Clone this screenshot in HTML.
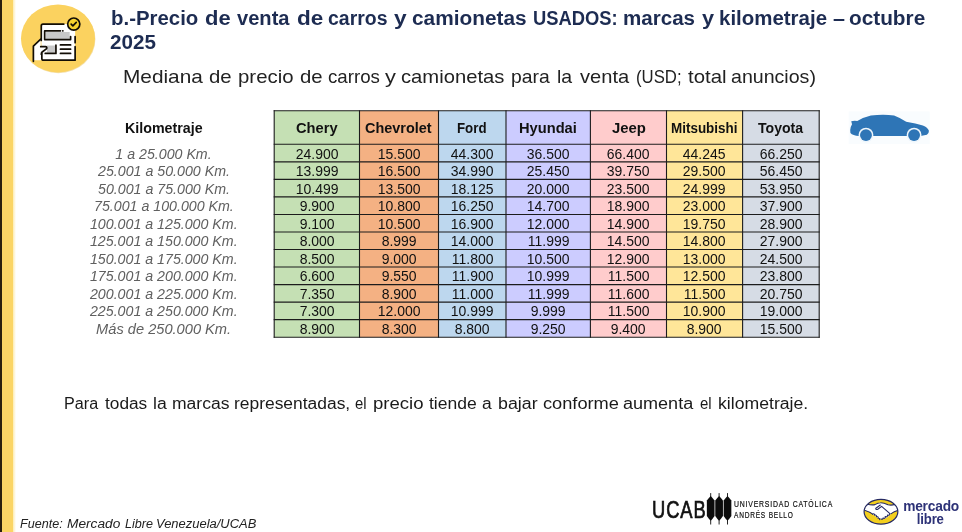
<!DOCTYPE html>
<html lang="es"><head><meta charset="utf-8"><title>Precio de venta de carros y camionetas usados</title>
<style>
html,body{margin:0;padding:0;}
body{width:962px;height:532px;position:relative;overflow:hidden;background:#fff;font-family:"Liberation Sans",sans-serif;color:#1a1a1a;}
.abs{position:absolute;white-space:nowrap;}
.abs>span{display:inline-block;}
.L>span{transform-origin:0 50%;}
.W>span{position:absolute;top:0;transform-origin:0 50%;}
.C{text-align:center;}
.C>span{transform-origin:50% 50%;}
.bar{position:absolute;left:0;top:0;width:13px;height:532px;background:#fbd565;}
.bar0{position:absolute;left:0;top:0;width:1.7px;height:532px;background:#2a1f0c;}
.title{font-weight:bold;font-size:20px;line-height:24px;color:#1d2c52;}
.sub{font-size:17.8px;line-height:22px;color:#222;}
.note{font-size:16px;line-height:22px;color:#1a1a1a;}
.src{font-size:12.5px;line-height:15px;font-style:italic;color:#222;}
.lab{width:200px;left:63.8px;font-style:italic;font-size:14px;line-height:17.5px;color:#606060;}
.km{width:200px;left:64px;font-weight:bold;font-size:14.2px;line-height:18px;color:#111;top:119.5px;}
.hd{font-weight:bold;font-size:14.2px;line-height:18px;color:#111;}
.c{font-size:14.5px;line-height:17.5px;color:#111;}
</style></head><body>
<div class="bar"></div><div style="position:absolute;left:13px;top:0;width:2.5px;height:532px;background:linear-gradient(to right,#fdecb0,#fff)"></div><div class="bar0"></div>
<svg class="abs" style="left:16px;top:0" width="90" height="80" viewBox="0 0 90 80">
<ellipse cx="42.4" cy="39.2" rx="37" ry="34" fill="#e9c86e" opacity="0.55"/>
<ellipse cx="42" cy="38.4" rx="37" ry="34" fill="#fbd25f"/>
<g transform="translate(14,10) scale(0.11278)" fill="none" stroke="#120d05" stroke-width="15" stroke-linecap="round" stroke-linejoin="round">
<path d="M100 270 V140 Q100 125 115 125 H400 V445 H120 Q105 445 105 430 V380 Z" fill="#fff" stroke="none"/>
<path d="M30 455 V320 L95 255 V325 H140 Q152 325 150 340 L100 380 V445 H30 Z" fill="#fff" stroke="none"/>
<rect x="140" y="195" width="212" height="62" fill="#c8c8c8" stroke="none"/>
<rect x="150" y="315" width="76" height="62" fill="#c8c8c8" stroke="none"/>
<path d="M100 270 V140 Q100 125 115 125 H300"/>
<path d="M400 235 V290 M400 325 V445 H120 Q105 445 105 430 V385"/>
<path d="M270 185 H130 V262 H360 V235"/>
<path d="M290 185 H292"/>
<path d="M230 312 V385 H135"/>
<path d="M270 310 H360 M270 347 H360 M270 385 H360"/>
<path d="M30 455 V320 L95 258"/>
<path d="M95 325 H138 Q152 327 148 342 L108 372 Q100 380 100 392"/>
<circle cx="388" cy="125" r="54" fill="#f7d22e" stroke-width="15"/>
<path d="M365 125 L380 140 L410 110" stroke-width="15"/>
</g></svg>
<div class="abs W title" style="left:0;top:5.6px;width:962px"><span style="left:110.63px;transform:scaleX(1.0199)">b.-Precio</span> <span style="left:205.37px;transform:scaleX(1.0986)">de</span> <span style="left:236.81px;transform:scaleX(1.0051)">venta</span> <span style="left:296.52px;transform:scaleX(1.1261)">de</span> <span style="left:328.15px;transform:scaleX(0.9723)">carros</span> <span style="left:393.70px;transform:scaleX(1.1343)">y</span> <span style="left:412.00px;transform:scaleX(1.0415)">camionetas</span> <span style="left:533.00px;transform:scaleX(0.9178)">USADOS:</span> <span style="left:623.37px;transform:scaleX(1.0279)">marcas</span> <span style="left:701.55px;transform:scaleX(1.0855)">y</span> <span style="left:719.00px;transform:scaleX(1.0227)">kilometraje</span> <span style="left:832.52px;transform:scaleX(1.0778)">–</span> <span style="left:849.37px;transform:scaleX(1.0390)">octubre</span></div>
<div class="abs W title" style="left:0;top:29.9px;width:962px"><span style="left:110.15px;transform:scaleX(1.0333)">2025</span></div>
<div class="abs W sub" style="left:0;top:65.6px;width:962px"><span style="left:122.93px;transform:scaleX(1.1695)">Mediana</span> <span style="left:209.37px;transform:scaleX(1.1448)">de</span> <span style="left:237.74px;transform:scaleX(1.1465)">precio</span> <span style="left:299.63px;transform:scaleX(1.1448)">de</span> <span style="left:328.15px;transform:scaleX(1.0505)">carros</span> <span style="left:385.07px;transform:scaleX(1.2262)">y</span> <span style="left:401.26px;transform:scaleX(1.1369)">camionetas</span> <span style="left:511.00px;transform:scaleX(1.0869)">para</span> <span style="left:557.48px;transform:scaleX(1.0957)">la</span> <span style="left:579.55px;transform:scaleX(1.1299)">venta</span> <span style="left:635.74px;transform:scaleX(0.9414)">(USD;</span> <span style="left:687.66px;transform:scaleX(1.1468)">total</span> <span style="left:731.26px;transform:scaleX(1.1013)">anuncios)</span></div>
<svg class="abs" style="left:0;top:0" width="962" height="532" viewBox="0 0 962 532"><rect x="274.2" y="110.8" width="85.30" height="226.40" fill="#c5e0b4"/><rect x="359.5" y="110.8" width="79.00" height="226.40" fill="#f4b183"/><rect x="438.5" y="110.8" width="67.50" height="226.40" fill="#bdd7ee"/><rect x="506.0" y="110.8" width="84.40" height="226.40" fill="#ccccff"/><rect x="590.4" y="110.8" width="76.10" height="226.40" fill="#ffcccc"/><rect x="666.5" y="110.8" width="76.10" height="226.40" fill="#ffe699"/><rect x="742.6" y="110.8" width="76.60" height="226.40" fill="#d6dce5"/><g stroke="#1c1c1c" stroke-width="1.1"><line x1="274.2" y1="110.3" x2="274.2" y2="337.7"/><line x1="359.5" y1="110.3" x2="359.5" y2="337.7"/><line x1="438.5" y1="110.3" x2="438.5" y2="337.7"/><line x1="506.0" y1="110.3" x2="506.0" y2="337.7"/><line x1="590.4" y1="110.3" x2="590.4" y2="337.7"/><line x1="666.5" y1="110.3" x2="666.5" y2="337.7"/><line x1="742.6" y1="110.3" x2="742.6" y2="337.7"/><line x1="819.2" y1="110.3" x2="819.2" y2="337.7"/><line x1="273.7" y1="110.80" x2="819.7" y2="110.80"/><line x1="273.7" y1="144.30" x2="819.7" y2="144.30"/><line x1="273.7" y1="161.84" x2="819.7" y2="161.84"/><line x1="273.7" y1="179.37" x2="819.7" y2="179.37"/><line x1="273.7" y1="196.91" x2="819.7" y2="196.91"/><line x1="273.7" y1="214.45" x2="819.7" y2="214.45"/><line x1="273.7" y1="231.98" x2="819.7" y2="231.98"/><line x1="273.7" y1="249.52" x2="819.7" y2="249.52"/><line x1="273.7" y1="267.05" x2="819.7" y2="267.05"/><line x1="273.7" y1="284.59" x2="819.7" y2="284.59"/><line x1="273.7" y1="302.13" x2="819.7" y2="302.13"/><line x1="273.7" y1="319.66" x2="819.7" y2="319.66"/><line x1="273.7" y1="337.20" x2="819.7" y2="337.20"/></g></svg>
<div class="abs W hd" style="left:0;top:118.6px;width:962px"><span style="left:124.52px;transform:scaleX(1.0040)">Kilometraje</span></div>
<div class="abs W hd" style="left:0;top:118.6px;width:962px"><span style="left:295.77px;transform:scaleX(1.0348)">Chery</span> <span style="left:365.48px;transform:scaleX(1.0171)">Chevrolet</span> <span style="left:457.00px;transform:scaleX(0.9368)">Ford</span> <span style="left:519.15px;transform:scaleX(1.0334)">Hyundai</span> <span style="left:611.74px;transform:scaleX(1.0497)">Jeep</span> <span style="left:671.15px;transform:scaleX(0.9472)">Mitsubishi</span> <span style="left:757.81px;transform:scaleX(0.9918)">Toyota</span></div>
<div class="abs C lab" style="top:145.5px"><span style="transform:scaleX(1.0147)">1 a 25.000 Km.</span></div>
<div class="abs C c" style="left:274.2px;width:85.3px;top:145.5px"><span style="transform:scaleX(0.9634)">24.900</span></div>
<div class="abs C c" style="left:359.5px;width:79.0px;top:145.5px"><span style="transform:scaleX(0.9634)">15.500</span></div>
<div class="abs C c" style="left:438.5px;width:67.5px;top:145.5px"><span style="transform:scaleX(0.9634)">44.300</span></div>
<div class="abs C c" style="left:506.0px;width:84.4px;top:145.5px"><span style="transform:scaleX(0.9634)">36.500</span></div>
<div class="abs C c" style="left:590.4px;width:76.1px;top:145.5px"><span style="transform:scaleX(0.9634)">66.400</span></div>
<div class="abs C c" style="left:666.5px;width:76.1px;top:145.5px"><span style="transform:scaleX(0.9634)">44.245</span></div>
<div class="abs C c" style="left:742.6px;width:76.6px;top:145.5px"><span style="transform:scaleX(0.9634)">66.250</span></div>
<div class="abs C lab" style="top:163.0px"><span style="transform:scaleX(1.0147)">25.001 a 50.000 Km.</span></div>
<div class="abs C c" style="left:274.2px;width:85.3px;top:163.0px"><span style="transform:scaleX(0.9634)">13.999</span></div>
<div class="abs C c" style="left:359.5px;width:79.0px;top:163.0px"><span style="transform:scaleX(0.9634)">16.500</span></div>
<div class="abs C c" style="left:438.5px;width:67.5px;top:163.0px"><span style="transform:scaleX(0.9634)">34.990</span></div>
<div class="abs C c" style="left:506.0px;width:84.4px;top:163.0px"><span style="transform:scaleX(0.9634)">25.450</span></div>
<div class="abs C c" style="left:590.4px;width:76.1px;top:163.0px"><span style="transform:scaleX(0.9634)">39.750</span></div>
<div class="abs C c" style="left:666.5px;width:76.1px;top:163.0px"><span style="transform:scaleX(0.9634)">29.500</span></div>
<div class="abs C c" style="left:742.6px;width:76.6px;top:163.0px"><span style="transform:scaleX(0.9634)">56.450</span></div>
<div class="abs C lab" style="top:180.6px"><span style="transform:scaleX(1.0147)">50.001 a 75.000 Km.</span></div>
<div class="abs C c" style="left:274.2px;width:85.3px;top:180.6px"><span style="transform:scaleX(0.9634)">10.499</span></div>
<div class="abs C c" style="left:359.5px;width:79.0px;top:180.6px"><span style="transform:scaleX(0.9634)">13.500</span></div>
<div class="abs C c" style="left:438.5px;width:67.5px;top:180.6px"><span style="transform:scaleX(0.9634)">18.125</span></div>
<div class="abs C c" style="left:506.0px;width:84.4px;top:180.6px"><span style="transform:scaleX(0.9634)">20.000</span></div>
<div class="abs C c" style="left:590.4px;width:76.1px;top:180.6px"><span style="transform:scaleX(0.9634)">23.500</span></div>
<div class="abs C c" style="left:666.5px;width:76.1px;top:180.6px"><span style="transform:scaleX(0.9634)">24.999</span></div>
<div class="abs C c" style="left:742.6px;width:76.6px;top:180.6px"><span style="transform:scaleX(0.9634)">53.950</span></div>
<div class="abs C lab" style="top:198.1px"><span style="transform:scaleX(1.0147)">75.001 a 100.000 Km.</span></div>
<div class="abs C c" style="left:274.2px;width:85.3px;top:198.1px"><span style="transform:scaleX(0.9634)">9.900</span></div>
<div class="abs C c" style="left:359.5px;width:79.0px;top:198.1px"><span style="transform:scaleX(0.9634)">10.800</span></div>
<div class="abs C c" style="left:438.5px;width:67.5px;top:198.1px"><span style="transform:scaleX(0.9634)">16.250</span></div>
<div class="abs C c" style="left:506.0px;width:84.4px;top:198.1px"><span style="transform:scaleX(0.9634)">14.700</span></div>
<div class="abs C c" style="left:590.4px;width:76.1px;top:198.1px"><span style="transform:scaleX(0.9634)">18.900</span></div>
<div class="abs C c" style="left:666.5px;width:76.1px;top:198.1px"><span style="transform:scaleX(0.9634)">23.000</span></div>
<div class="abs C c" style="left:742.6px;width:76.6px;top:198.1px"><span style="transform:scaleX(0.9634)">37.900</span></div>
<div class="abs C lab" style="top:215.6px"><span style="transform:scaleX(1.0147)">100.001 a 125.000 Km.</span></div>
<div class="abs C c" style="left:274.2px;width:85.3px;top:215.6px"><span style="transform:scaleX(0.9634)">9.100</span></div>
<div class="abs C c" style="left:359.5px;width:79.0px;top:215.6px"><span style="transform:scaleX(0.9634)">10.500</span></div>
<div class="abs C c" style="left:438.5px;width:67.5px;top:215.6px"><span style="transform:scaleX(0.9634)">16.900</span></div>
<div class="abs C c" style="left:506.0px;width:84.4px;top:215.6px"><span style="transform:scaleX(0.9634)">12.000</span></div>
<div class="abs C c" style="left:590.4px;width:76.1px;top:215.6px"><span style="transform:scaleX(0.9634)">14.900</span></div>
<div class="abs C c" style="left:666.5px;width:76.1px;top:215.6px"><span style="transform:scaleX(0.9634)">19.750</span></div>
<div class="abs C c" style="left:742.6px;width:76.6px;top:215.6px"><span style="transform:scaleX(0.9634)">28.900</span></div>
<div class="abs C lab" style="top:233.2px"><span style="transform:scaleX(1.0147)">125.001 a 150.000 Km.</span></div>
<div class="abs C c" style="left:274.2px;width:85.3px;top:233.2px"><span style="transform:scaleX(0.9634)">8.000</span></div>
<div class="abs C c" style="left:359.5px;width:79.0px;top:233.2px"><span style="transform:scaleX(0.9634)">8.999</span></div>
<div class="abs C c" style="left:438.5px;width:67.5px;top:233.2px"><span style="transform:scaleX(0.9634)">14.000</span></div>
<div class="abs C c" style="left:506.0px;width:84.4px;top:233.2px"><span style="transform:scaleX(0.9634)">11.999</span></div>
<div class="abs C c" style="left:590.4px;width:76.1px;top:233.2px"><span style="transform:scaleX(0.9634)">14.500</span></div>
<div class="abs C c" style="left:666.5px;width:76.1px;top:233.2px"><span style="transform:scaleX(0.9634)">14.800</span></div>
<div class="abs C c" style="left:742.6px;width:76.6px;top:233.2px"><span style="transform:scaleX(0.9634)">27.900</span></div>
<div class="abs C lab" style="top:250.7px"><span style="transform:scaleX(1.0147)">150.001 a 175.000 Km.</span></div>
<div class="abs C c" style="left:274.2px;width:85.3px;top:250.7px"><span style="transform:scaleX(0.9634)">8.500</span></div>
<div class="abs C c" style="left:359.5px;width:79.0px;top:250.7px"><span style="transform:scaleX(0.9634)">9.000</span></div>
<div class="abs C c" style="left:438.5px;width:67.5px;top:250.7px"><span style="transform:scaleX(0.9634)">11.800</span></div>
<div class="abs C c" style="left:506.0px;width:84.4px;top:250.7px"><span style="transform:scaleX(0.9634)">10.500</span></div>
<div class="abs C c" style="left:590.4px;width:76.1px;top:250.7px"><span style="transform:scaleX(0.9634)">12.900</span></div>
<div class="abs C c" style="left:666.5px;width:76.1px;top:250.7px"><span style="transform:scaleX(0.9634)">13.000</span></div>
<div class="abs C c" style="left:742.6px;width:76.6px;top:250.7px"><span style="transform:scaleX(0.9634)">24.500</span></div>
<div class="abs C lab" style="top:268.3px"><span style="transform:scaleX(1.0147)">175.001 a 200.000 Km.</span></div>
<div class="abs C c" style="left:274.2px;width:85.3px;top:268.3px"><span style="transform:scaleX(0.9634)">6.600</span></div>
<div class="abs C c" style="left:359.5px;width:79.0px;top:268.3px"><span style="transform:scaleX(0.9634)">9.550</span></div>
<div class="abs C c" style="left:438.5px;width:67.5px;top:268.3px"><span style="transform:scaleX(0.9634)">11.900</span></div>
<div class="abs C c" style="left:506.0px;width:84.4px;top:268.3px"><span style="transform:scaleX(0.9634)">10.999</span></div>
<div class="abs C c" style="left:590.4px;width:76.1px;top:268.3px"><span style="transform:scaleX(0.9634)">11.500</span></div>
<div class="abs C c" style="left:666.5px;width:76.1px;top:268.3px"><span style="transform:scaleX(0.9634)">12.500</span></div>
<div class="abs C c" style="left:742.6px;width:76.6px;top:268.3px"><span style="transform:scaleX(0.9634)">23.800</span></div>
<div class="abs C lab" style="top:285.8px"><span style="transform:scaleX(1.0147)">200.001 a 225.000 Km.</span></div>
<div class="abs C c" style="left:274.2px;width:85.3px;top:285.8px"><span style="transform:scaleX(0.9634)">7.350</span></div>
<div class="abs C c" style="left:359.5px;width:79.0px;top:285.8px"><span style="transform:scaleX(0.9634)">8.900</span></div>
<div class="abs C c" style="left:438.5px;width:67.5px;top:285.8px"><span style="transform:scaleX(0.9634)">11.000</span></div>
<div class="abs C c" style="left:506.0px;width:84.4px;top:285.8px"><span style="transform:scaleX(0.9634)">11.999</span></div>
<div class="abs C c" style="left:590.4px;width:76.1px;top:285.8px"><span style="transform:scaleX(0.9634)">11.600</span></div>
<div class="abs C c" style="left:666.5px;width:76.1px;top:285.8px"><span style="transform:scaleX(0.9634)">11.500</span></div>
<div class="abs C c" style="left:742.6px;width:76.6px;top:285.8px"><span style="transform:scaleX(0.9634)">20.750</span></div>
<div class="abs C lab" style="top:303.3px"><span style="transform:scaleX(1.0147)">225.001 a 250.000 Km.</span></div>
<div class="abs C c" style="left:274.2px;width:85.3px;top:303.3px"><span style="transform:scaleX(0.9634)">7.300</span></div>
<div class="abs C c" style="left:359.5px;width:79.0px;top:303.3px"><span style="transform:scaleX(0.9634)">12.000</span></div>
<div class="abs C c" style="left:438.5px;width:67.5px;top:303.3px"><span style="transform:scaleX(0.9634)">10.999</span></div>
<div class="abs C c" style="left:506.0px;width:84.4px;top:303.3px"><span style="transform:scaleX(0.9634)">9.999</span></div>
<div class="abs C c" style="left:590.4px;width:76.1px;top:303.3px"><span style="transform:scaleX(0.9634)">11.500</span></div>
<div class="abs C c" style="left:666.5px;width:76.1px;top:303.3px"><span style="transform:scaleX(0.9634)">10.900</span></div>
<div class="abs C c" style="left:742.6px;width:76.6px;top:303.3px"><span style="transform:scaleX(0.9634)">19.000</span></div>
<div class="abs C lab" style="top:320.9px"><span style="transform:scaleX(1.0451)">Más de 250.000 Km.</span></div>
<div class="abs C c" style="left:274.2px;width:85.3px;top:320.9px"><span style="transform:scaleX(0.9634)">8.900</span></div>
<div class="abs C c" style="left:359.5px;width:79.0px;top:320.9px"><span style="transform:scaleX(0.9634)">8.300</span></div>
<div class="abs C c" style="left:438.5px;width:67.5px;top:320.9px"><span style="transform:scaleX(0.9634)">8.800</span></div>
<div class="abs C c" style="left:506.0px;width:84.4px;top:320.9px"><span style="transform:scaleX(0.9634)">9.250</span></div>
<div class="abs C c" style="left:590.4px;width:76.1px;top:320.9px"><span style="transform:scaleX(0.9634)">9.400</span></div>
<div class="abs C c" style="left:666.5px;width:76.1px;top:320.9px"><span style="transform:scaleX(0.9634)">8.900</span></div>
<div class="abs C c" style="left:742.6px;width:76.6px;top:320.9px"><span style="transform:scaleX(0.9634)">15.500</span></div>
<div class="abs W note" style="left:0;top:393px;width:962px"><span style="left:64.00px;transform:scaleX(1.0101)">Para</span> <span style="left:105.29px;transform:scaleX(1.0779)">todas</span> <span style="left:152.89px;transform:scaleX(1.1019)">la</span> <span style="left:172.11px;transform:scaleX(1.0957)">marcas</span> <span style="left:234.37px;transform:scaleX(1.0885)">representadas,</span> <span style="left:354.89px;transform:scaleX(0.9290)">el</span> <span style="left:372.52px;transform:scaleX(1.1593)">precio</span> <span style="left:428.55px;transform:scaleX(1.0951)">tiende</span> <span style="left:481.89px;transform:scaleX(1.0875)">a</span> <span style="left:497.63px;transform:scaleX(1.1125)">bajar</span> <span style="left:542.74px;transform:scaleX(1.1383)">conforme</span> <span style="left:623.37px;transform:scaleX(1.1274)">aumenta</span> <span style="left:700.00px;transform:scaleX(0.9364)">el</span> <span style="left:717.63px;transform:scaleX(1.1028)">kilometraje.</span></div>
<div class="abs W src" style="left:0;top:517.4px;width:962px"><span style="left:20.07px;transform:scaleX(1.0057)">Fuente:</span> <span style="left:67.18px;transform:scaleX(1.0959)">Mercado</span> <span style="left:125.29px;transform:scaleX(1.0060)">Libre</span> <span style="left:155.89px;transform:scaleX(1.0368)">Venezuela/UCAB</span></div>
<svg class="abs" style="left:836px;top:100px" width="110" height="60" viewBox="0 0 962 525">
<rect x="110" y="100" width="710" height="285" fill="#f9fcfe"/>
<path d="M124 262 Q126 235 140 212 L133 186 Q160 178 186 184 Q250 148 305 136 Q415 124 508 136 Q565 158 614 190 Q700 202 760 223 Q802 240 813 270 Q813 296 795 304 L740 316 H330 L202 314 Q146 312 126 288 Z" fill="#2e75b6"/>
<circle cx="262" cy="307" r="65" fill="#eef6fc"/><circle cx="262" cy="307" r="52" fill="#2e75b6"/>
<circle cx="683" cy="307" r="65" fill="#eef6fc"/><circle cx="683" cy="307" r="52" fill="#2e75b6"/>
</svg>
<div class="abs L" style="left:652.3px;top:497.6px;font-size:23px;line-height:24px;color:#111;letter-spacing:1.2px;-webkit-text-stroke:0.7px #111;"><span style="transform:scaleX(0.7963)">UCAB</span></div>
<svg class="abs" style="left:704px;top:490px" width="30" height="38" viewBox="0 0 30 38">
<g fill="#0c0c0c" stroke="#0c0c0c" stroke-width="0.9">
<path d="M6.7 3.1 V34.5 M15.1 3.1 V34.5 M23.5 3.1 V34.5" fill="none"/>
<path d="M6.7 5.9 Q8.82 8.100000000000001 10.55 10.4 L10.55 25.9 Q8.82 28.5 6.7 30.7 Q4.58 28.5 2.85 25.9 L2.85 10.4 Q4.58 8.100000000000001 6.7 5.9 Z" stroke="none"/>
<path d="M15.1 5.9 Q17.22 8.100000000000001 18.95 10.4 L18.95 25.9 Q17.22 28.5 15.1 30.7 Q12.98 28.5 11.25 25.9 L11.25 10.4 Q12.98 8.100000000000001 15.1 5.9 Z" stroke="none"/>
<path d="M23.5 5.9 Q25.62 8.100000000000001 27.35 10.4 L27.35 25.9 Q25.62 28.5 23.5 30.7 Q21.38 28.5 19.65 25.9 L19.65 10.4 Q21.38 8.100000000000001 23.5 5.9 Z" stroke="none"/>
</g></svg>
<div class="abs L" style="left:733.6px;top:499.3px;font-size:8.5px;line-height:10px;letter-spacing:1px;color:#111;-webkit-text-stroke:0.2px #111;"><span style="transform:scaleX(0.8097)">UNIVERSIDAD CATÓLICA</span></div>
<div class="abs L" style="left:733.6px;top:509.5px;font-size:8.5px;line-height:10px;letter-spacing:1px;color:#111;-webkit-text-stroke:0.2px #111;"><span style="transform:scaleX(0.7732)">ANDRÉS BELLO</span></div>
<svg class="abs" style="left:860px;top:494px" width="44" height="34" viewBox="0 0 688 532">
<defs><clipPath id="mlc"><ellipse cx="328" cy="278" rx="264" ry="194"/></clipPath></defs>
<ellipse cx="328" cy="278" rx="264" ry="194" fill="#f3cf1e"/>
<g clip-path="url(#mlc)"><g transform="translate(-2,-12)">
<path d="M40 255 C75 215 95 190 118 172 C160 182 205 185 235 178 C265 160 290 148 320 148 C360 146 400 160 440 180 C480 190 520 185 548 172 C580 200 600 235 620 262 C560 275 520 295 490 318 C460 350 430 385 395 395 C360 410 320 408 295 398 C260 375 225 345 200 328 C165 300 120 280 40 255 Z" fill="#fff"/>
<g fill="none" stroke="#262a63" stroke-width="17" stroke-linecap="round" stroke-linejoin="round">
<path d="M118 172 C160 182 205 185 235 178 C265 160 290 148 320 148 C360 146 400 160 440 180 C480 190 520 185 548 172"/>
<path d="M40 255 C120 280 165 300 200 328 M620 262 C560 275 520 295 490 318"/>
<path d="M320 185 L250 235 C240 250 260 262 280 250 L340 205 L470 320"/>
<path d="M200 328 C215 315 235 325 230 345 C250 335 268 350 258 368 C278 360 295 375 285 392 C305 388 318 400 308 412"/>
<path d="M330 400 C345 415 365 405 360 390 M365 388 C385 400 405 385 395 368 M400 365 C420 378 440 360 430 345 M432 342 C452 352 470 335 468 320"/>
</g></g></g>
<ellipse cx="328" cy="278" rx="264" ry="194" fill="none" stroke="#262a63" stroke-width="19"/>
</svg>
<div class="abs C" style="left:900.7px;width:61px;top:498.6px;font-size:14.3px;line-height:15px;font-weight:bold;color:#2d3277;letter-spacing:-0.2px;"><span style="transform:scaleX(0.9612)">mercado</span></div>
<div class="abs C" style="left:900px;width:61px;top:512.1px;font-size:14px;line-height:15px;font-weight:bold;color:#2d3277;letter-spacing:-0.2px;"><span style="transform:scaleX(0.9406)">libre</span></div>
</body></html>
